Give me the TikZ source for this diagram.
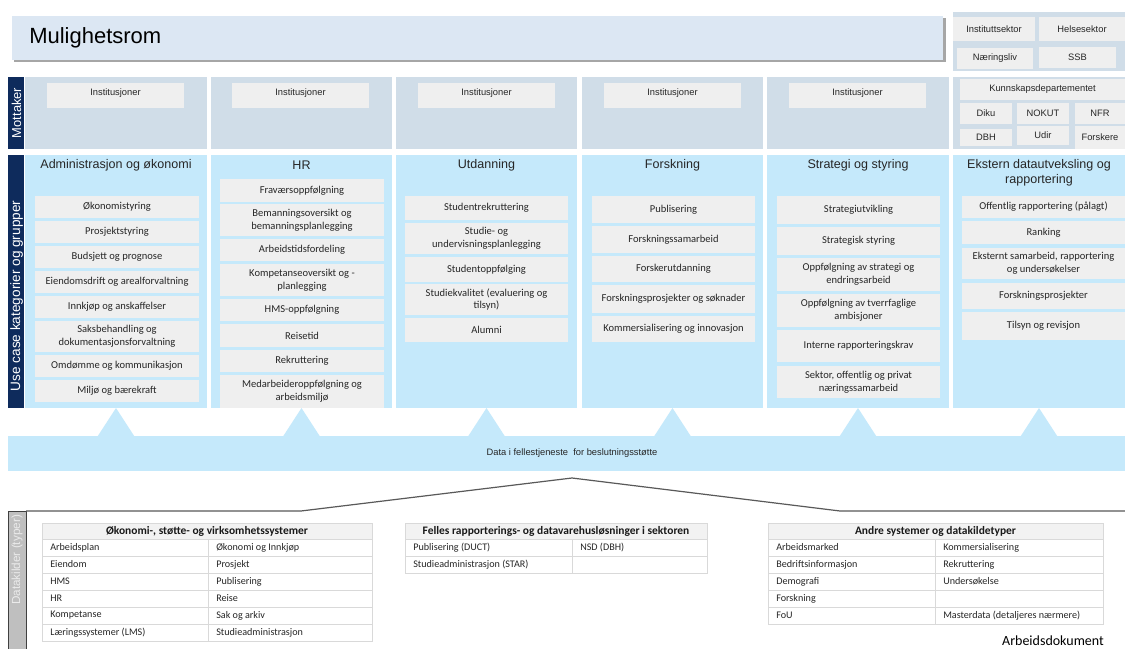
\documentclass[tikz,border=0pt]{standalone}
\usepackage{fontspec}
\setmainfont{Liberation Sans}
\newfontfamily\calib{Carlito}
\definecolor{navy}{HTML}{0E2B5C}
\definecolor{motfill}{HTML}{D0DDE8}
\definecolor{ucfill}{HTML}{C5E9FB}
\definecolor{boxgray}{HTML}{EFEFEF}
\definecolor{hdrfill}{HTML}{DCE7F3}
\definecolor{shadowgray}{HTML}{A6A6A6}
\definecolor{tabline}{HTML}{D9D9D9}
\definecolor{tabhead}{HTML}{F2F2F2}
\definecolor{dkpanel}{HTML}{BFBFBF}
\definecolor{dkborder}{HTML}{404040}
\definecolor{linegray}{HTML}{595959}
\definecolor{dktext}{HTML}{EBEBEB}
\newcommand\bx[7]{%
  \pgfmathsetmacro\bxw{(#5-#3)*0.75}%
  \pgfmathsetmacro\bxh{(#6-#4)*0.75}%
  \node[#1, minimum width=\bxw pt, minimum height=\bxh pt] (#2) at ({(#3+#5)/2},{(#4+#6)/2}) {#7};}
\tikzset{
  panel/.style={fill=#1, draw=none, inner sep=0pt, outer sep=0pt},
  ubox/.style={fill=boxgray, draw=none, inner sep=0pt, outer sep=0pt, align=center, text=black!85,
    font=\calib\fontsize{7.9}{9.4}\selectfont},
  abox/.style={fill=boxgray, draw=none, inner sep=0pt, outer sep=0pt, align=center, text=black!85,
    font=\fontsize{7}{8}\selectfont},
  atext/.style={inner sep=0pt, text=black!85, font=\fontsize{7}{8}\selectfont},
  coltitle/.style={inner sep=0pt, align=center, text=black!85,
    font=\fontsize{9.4}{11.3}\selectfont},
  sidelabel/.style={rotate=90, inner sep=0pt, text=white},
  cell/.style={inner sep=0pt, anchor=west, text=black!85, font=\calib\fontsize{7.6}{9}\selectfont},
  thead/.style={inner sep=0pt, text=black!90, font=\calib\bfseries\fontsize{8.6}{10}\selectfont},
  tabrule/.style={draw=tabline, line width=0.6pt},
}
\begin{document}
\begin{tikzpicture}[x=0.75pt,y=-0.75pt]
\useasboundingbox (0,0) rectangle (1125,649);
\fill[white] (0,0) rectangle (1125,649);

% header
\fill[shadowgray] (14,18.5) rectangle (945.5,62.5);
\bx{panel=hdrfill}{hdr}{12}{16}{943}{60}{}
\node[anchor=west, inner sep=0pt, font=\fontsize{16.5}{18}\selectfont] (hdrt) at (29,38) {Mulighetsrom};

% top right panel
\bx{panel=motfill}{trp}{953}{12}{1125}{71}{}
\bx{abox}{inst}{953}{17}{1035}{41}{Instituttsektor}
\bx{abox}{helse}{1039}{17}{1125}{41}{Helsesektor}
\bx{abox}{naer}{957}{48}{1033}{69}{Næringsliv}
\bx{abox}{ssb}{1039}{47}{1116}{68}{SSB}

% Mottaker row
\bx{panel=navy}{motl}{8}{77}{24}{149}{}
\node[sidelabel, font=\fontsize{9.7}{11}\selectfont] (motlt) at (16.5,113) {Mottaker};
\bx{panel=motfill}{m1}{25}{77}{207}{149}{}
\bx{panel=motfill}{m2}{211}{77}{392}{149}{}
\bx{panel=motfill}{m3}{396}{77}{577}{149}{}
\bx{panel=motfill}{m4}{582}{77}{763}{149}{}
\bx{panel=motfill}{m5}{767}{77}{949}{149}{}
\bx{panel=motfill}{m6}{953}{77}{1125}{149}{}
\foreach \a/\b [count=\i] in {47/184,232/369,418/555,604/741,789/926}{
  \bx{panel=boxgray}{ib\i}{\a}{83}{\b}{108}{}
  \node[atext] (ibt\i) at ({(\a+\b)/2},93.5) {Institusjoner};
}
\bx{abox}{kd}{960}{79}{1125}{100}{Kunnskapsdepartementet}
\bx{abox}{diku}{960}{103}{1012}{124}{Diku}
\bx{abox}{nokut}{1017}{103}{1069}{124}{NOKUT}
\bx{abox}{nfr}{1075}{103}{1125}{124}{NFR}
\bx{abox}{dbh}{960}{129}{1012}{146}{DBH}
\bx{abox}{udir}{1017}{126}{1069}{145}{Udir}
\bx{abox}{forsk}{1075}{126}{1125}{149}{Forskere}

% Use case row
\bx{panel=navy}{ucl}{8}{155}{24}{408}{}
\node[sidelabel, font=\fontsize{10.2}{12}\selectfont] (uclt) at (16.5,296) {Use case kategorier og grupper};
\bx{panel=ucfill}{uc1}{25}{155}{207}{408}{}
\bx{panel=ucfill}{uc2}{211}{155}{392}{408}{}
\bx{panel=ucfill}{uc3}{396}{155}{577}{408}{}
\bx{panel=ucfill}{uc4}{582}{155}{763}{408}{}
\bx{panel=ucfill}{uc5}{767}{155}{949}{408}{}
\bx{panel=ucfill}{uc6}{953}{155}{1125}{408}{}
\node[coltitle] (t1) at (116,165) {Administrasjon og økonomi};
\node[coltitle] (t2) at (301.5,165) {HR};
\node[coltitle] (t3) at (486.5,165) {Utdanning};
\node[coltitle] (t4) at (672.5,165) {Forskning};
\node[coltitle] (t5) at (858,165) {Strategi og styring};
\node[coltitle] (t6) at (1039,172.5) {Ekstern datautveksling og\\rapportering};

% column 1
\bx{ubox}{a1}{35}{196}{199}{218}{Økonomistyring}
\bx{ubox}{a2}{35}{221}{199}{243}{Prosjektstyring}
\bx{ubox}{a3}{35}{246}{199}{268}{Budsjett og prognose}
\bx{ubox}{a4}{35}{271}{199}{293}{Eiendomsdrift og arealforvaltning}
\bx{ubox}{a5}{35}{296}{199}{318}{Innkjøp og anskaffelser}
\bx{ubox}{a6}{35}{321}{199}{352}{Saksbehandling og\\dokumentasjonsforvaltning}
\bx{ubox}{a7}{35}{355}{199}{377}{Omdømme og kommunikasjon}
\bx{ubox}{a8}{35}{380}{199}{402}{Miljø og bærekraft}
% column 2
\bx{ubox}{h1}{220}{179}{384}{202}{Fraværsoppfølgning}
\bx{ubox}{h2}{220}{204}{384}{236}{Bemanningsoversikt og\\bemanningsplanlegging}
\bx{ubox}{h3}{220}{239}{384}{261}{Arbeidstidsfordeling}
\bx{ubox}{h4}{220}{264}{384}{296}{Kompetanseoversikt og -\\planlegging}
\bx{ubox}{h5}{220}{299}{384}{321}{HMS-oppfølgning}
\bx{ubox}{h6}{220}{324}{384}{347}{Reisetid}
\bx{ubox}{h7}{220}{350}{384}{372}{Rekruttering}
\bx{ubox}{h8}{220}{375}{384}{408}{Medarbeideroppfølgning og\\arbeidsmiljø}
% column 3
\bx{ubox}{u1}{405}{196}{568}{220}{Studentrekruttering}
\bx{ubox}{u2}{405}{223}{568}{254}{Studie- og\\undervisningsplanlegging}
\bx{ubox}{u3}{405}{257}{568}{282}{Studentoppfølging}
\bx{ubox}{u4}{405}{284}{568}{315}{Studiekvalitet (evaluering og\\tilsyn)}
\bx{ubox}{u5}{405}{318}{568}{342}{Alumni}
% column 4
\bx{ubox}{f1}{592}{196}{755}{223}{Publisering}
\bx{ubox}{f2}{592}{226}{755}{253}{Forskningssamarbeid}
\bx{ubox}{f3}{592}{256}{755}{282}{Forskerutdanning}
\bx{ubox}{f4}{592}{285}{755}{313}{Forskningsprosjekter og søknader}
\bx{ubox}{f5}{592}{316}{755}{342}{Kommersialisering og innovasjon}
% column 5
\bx{ubox}{s1}{777}{196}{940}{224}{Strategiutvikling}
\bx{ubox}{s2}{777}{227}{940}{255}{Strategisk styring}
\bx{ubox}{s3}{777}{258}{940}{291}{Oppfølgning av strategi og\\endringsarbeid}
\bx{ubox}{s4}{777}{294}{940}{327}{Oppfølgning av tverrfaglige\\ambisjoner}
\bx{ubox}{s5}{777}{330}{940}{362}{Interne rapporteringskrav}
\bx{ubox}{s6}{777}{366}{940}{398}{Sektor, offentlig og privat\\næringssamarbeid}
% column 6
\bx{ubox}{e1}{962}{196}{1125}{218}{Offentlig rapportering (pålagt)}
\bx{ubox}{e2}{962}{221}{1125}{244}{Ranking}
\bx{ubox}{e3}{962}{248}{1125}{279}{Eksternt samarbeid, rapportering\\og undersøkelser}
\bx{ubox}{e4}{962}{283}{1125}{309}{Forskningsprosjekter}
\bx{ubox}{e5}{962}{312}{1125}{340}{Tilsyn og revisjon}

% triangles and data bar
\foreach \c in {uc1,uc2,uc3,uc4,uc5,uc6}{
  \fill[ucfill] (\c.south) -- ++(-18.5,28.5) -- ++(37,0) -- cycle;
}
\bx{panel=ucfill}{data}{8}{436}{1125}{471}{}
\node[atext] (datat) at (572,453) {Data i fellestjeneste\ \ for beslutningsstøtte};

% Datakilder panel and bracket line
\bx{panel=dkpanel, draw=dkborder, line width=0.6pt}{dk}{8}{511}{26}{651}{}
\node[sidelabel, text=dktext, font=\fontsize{8.8}{10}\selectfont] (dkt) at (17,560) {Datakilder (typer)};
\coordinate (bl) at (301,511);
\coordinate (bp) at (572,478);
\coordinate (br) at (840,511);
\coordinate (be) at (1125,511);
\draw[linegray, line width=0.9pt, line join=round] (dk.north east) -- (bl) -- (bp) -- (br) -- (be);

% table 1
\fill[tabhead] (42,523) rectangle (372,539);
\draw[tabrule] (42,523) rectangle (372,641);
\foreach \y in {539,556,573,590,607,624} \draw[tabrule] (42,\y) -- (372,\y);
\draw[tabrule] (208,539) -- (208,641);
\node[thead] (t1h) at (207,531) {Økonomi-, støtte- og virksomhetssystemer};
\foreach \p/\q [count=\i] in {{Arbeidsplan}/{Økonomi og Innkjøp},{Eiendom}/{Prosjekt},{HMS}/{Publisering},{HR}/{Reise},{Kompetanse}/{Sak og arkiv},{Læringssystemer (LMS)}/{Studieadministrasjon}}{
  \node[cell] (t1l\i) at (50,{547.5+17*(\i-1)}) {\p};
  \node[cell] (t1r\i) at (216,{547.5+17*(\i-1)}) {\q};
}
% table 2
\fill[tabhead] (405,523) rectangle (707,539);
\draw[tabrule] (405,523) rectangle (707,573);
\foreach \y in {539,556} \draw[tabrule] (405,\y) -- (707,\y);
\draw[tabrule] (572,539) -- (572,573);
\node[thead] (t2h) at (556,531) {Felles rapporterings- og datavarehusløsninger i sektoren};
\node[cell] (t2l1) at (413,547.5) {Publisering (DUCT)};
\node[cell] (t2r1) at (580,547.5) {NSD (DBH)};
\node[cell] (t2l2) at (413,564.5) {Studieadministrasjon (STAR)};
% table 3
\fill[tabhead] (768,523) rectangle (1103,539);
\draw[tabrule] (768,523) rectangle (1103,624);
\foreach \y in {539,556,573,590,607} \draw[tabrule] (768,\y) -- (1103,\y);
\draw[tabrule] (935,539) -- (935,624);
\node[thead] (t3h) at (935.5,531) {Andre systemer og datakildetyper};
\foreach \p/\q [count=\i] in {{Arbeidsmarked}/{Kommersialisering},{Bedriftsinformasjon}/{Rekruttering},{Demografi}/{Undersøkelse},{Forskning}/{},{FoU}/{Masterdata (detaljeres nærmere)}}{
  \node[cell] (t3l\i) at (776,{547.5+17*(\i-1)}) {\p};
  \node[cell] (t3r\i) at (943,{547.5+17*(\i-1)}) {\q};
}
\node[inner sep=0pt, font=\calib\fontsize{10.5}{12}\selectfont] (adok) at (1053,641) {Arbeidsdokument};
\end{tikzpicture}
\end{document}
